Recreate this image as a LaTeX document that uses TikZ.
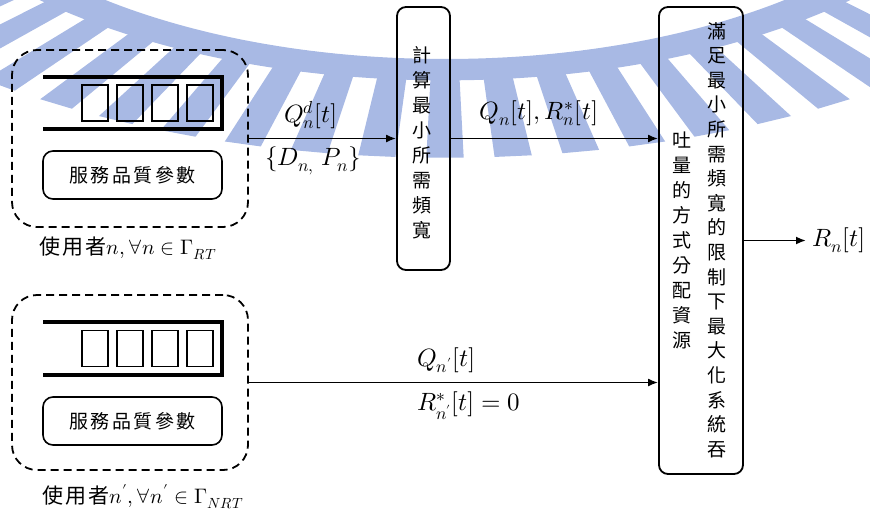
\documentclass[tikz,border=0pt]{standalone}
\usepackage{fontspec}
\usepackage{unicode-math}
\setmathfont{Latin Modern Math}
\newfontfamily\cjk{Noto Sans CJK TC}
\usetikzlibrary{arrows.meta}
\definecolor{wmblue}{RGB}{168,185,228}
\begin{document}
\begin{tikzpicture}[x=1pt,y=-1pt,
  userbox/.style={draw,dash pattern=on 8pt off 5pt,line width=1.8pt,rounded corners=25pt,minimum width=236pt,inner sep=0pt},
  qosbox/.style={draw,line width=1.6pt,rounded corners=10pt,minimum width=179pt,minimum height=48pt,inner sep=0pt,font=\cjk\fontsize{19}{22}\selectfont},
  cell/.style={draw,line width=1.1pt,minimum width=26pt,minimum height=36pt,inner sep=0pt},
  queue/.style={line width=3.2pt},
  procbox/.style={draw,line width=1.8pt,rounded corners=9pt,inner sep=0pt},
  vtext/.style={align=center,inner sep=0pt},
  flow/.style={-{Latex[length=10pt,width=8pt]},line width=1.8pt},
  mlabel/.style={inner sep=0pt,font=\fontsize{25}{30}\selectfont},
  ulabel/.style={inner sep=0pt,font=\cjk\fontsize{21}{25}\selectfont},
]
\useasboundingbox (0,0) rectangle (870,512);

% background emblem: ring with radial teeth
\begin{scope}
  \clip (0,0) rectangle (870,512);
  \begin{scope}[shift={(445,-200)},xscale=551,yscale=267]
    \fill[wmblue,even odd rule] (0,0) circle (1.05) (0,0) circle (0.97);
    \foreach \k in {-18,...,18}{
      \pgfmathsetmacro\ang{90+5.3*\k}
      \fill[wmblue] (\ang-1.45:1.04) -- (\ang-1.45:1.34) -- (\ang+1.45:1.34) -- (\ang+1.45:1.04) -- cycle;
    }
  \end{scope}
\end{scope}

% real-time user
\node[userbox,minimum height=177pt] (rt) at (130,138.5) {};
\draw[queue] (43,77) -- (222,77) -- (222,129) -- (43,129);
\node[cell] (rtc1) at (95,103) {};
\node[cell] (rtc2) at (130,103) {};
\node[cell] (rtc3) at (165,103) {};
\node[cell] (rtc4) at (200,103) {};
\node[qosbox] (rtqos) at (132.5,175) {服\hspace{2.5pt}務\hspace{2.5pt}品\hspace{2.5pt}質\hspace{2.5pt}參\hspace{2.5pt}數};
\node[ulabel] (rtlabel) at (128,248) {使\hspace{2pt}用\hspace{2pt}者$n, \forall n \in \Gamma_{RT}$};

% non-real-time user
\node[userbox,minimum height=175pt] (nrt) at (130,382.5) {};
\draw[queue] (43,322) -- (222,322) -- (222,375) -- (43,375);
\node[cell] (nrtc1) at (95,348.5) {};
\node[cell] (nrtc2) at (130,348.5) {};
\node[cell] (nrtc3) at (165,348.5) {};
\node[cell] (nrtc4) at (200,348.5) {};
\node[qosbox] (nrtqos) at (132.5,421) {服\hspace{2.5pt}務\hspace{2.5pt}品\hspace{2.5pt}質\hspace{2.5pt}參\hspace{2.5pt}數};
\node[ulabel] (nrtlabel) at (143,497) {使\hspace{2pt}用\hspace{2pt}者$n', \forall n' \in \Gamma_{NRT}$};

% minimum bandwidth stage
\node[procbox,minimum width=53pt,minimum height=263pt] (comp) at (423.5,138.5) {};
\node[vtext,font=\cjk\fontsize{19}{25}\selectfont] (comptext) at (422,143)
  {計\\算\\最\\小\\所\\需\\頻\\寬};

% allocation stage
\node[procbox,minimum width=84pt,minimum height=467pt] (alloc) at (701,240.5) {};
\node[vtext,font=\cjk\fontsize{19}{24.6}\selectfont] (alloctextA) at (717,240)
  {滿\\足\\最\\小\\所\\需\\頻\\寬\\的\\限\\制\\下\\最\\大\\化\\系\\統\\吞};
\node[vtext,font=\cjk\fontsize{19}{25}\selectfont] (alloctextB) at (682,240)
  {吐\\量\\的\\方\\式\\分\\配\\資\\源};

% flows
\draw[flow] (rt.east) -- (comp.west);
\node[mlabel] (qd) at (311,115) {$Q_n^d[t]$};
\node[mlabel] (dp) at (313,161) {$\{D_{n,}\;P_n\}$};

\draw[flow] (comp.east) -- (comp.east -| alloc.west);
\node[mlabel] (qr) at (539,113) {$Q_n[t], R_n^*[t]$};

\draw[flow] (nrt.east) -- (nrt.east -| alloc.west);
\node[mlabel,anchor=west] (qnp) at (417,360) {$Q_{n'}[t]$};
\node[mlabel,anchor=west] (rnp) at (417,406) {$R^*_{n'}[t] = 0$};

\coordinate (outend) at (806,240.5);
\draw[flow] (alloc.east) -- (outend);
\node[mlabel,anchor=west] (rout) at (812,240.5) {$R_n[t]$};
\end{tikzpicture}
\end{document}
